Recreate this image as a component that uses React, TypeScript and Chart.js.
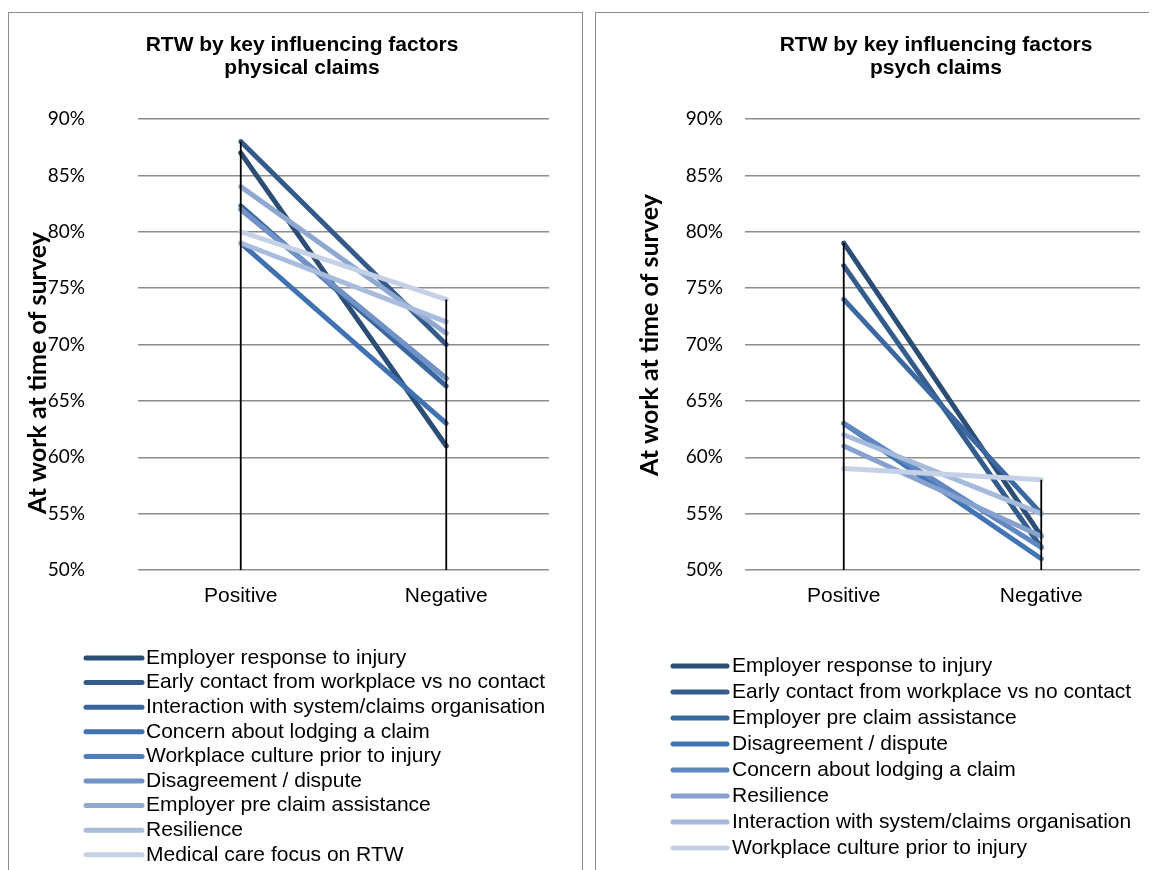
import React, { useEffect, useRef } from 'react';
import { Chart, registerables } from 'chart.js';

Chart.register(...registerables);

// ---------- data ----------
const categories = ['Positive', 'Negative'];
const yMin = 50;
const yMax = 90;
const yStep = 5;

const physicalTitle = ['RTW by key influencing factors', 'physical claims'];
const physicalSeries = [
  'Employer response to injury',
  'Early contact from workplace vs no contact',
  'Interaction with system/claims organisation',
  'Concern about lodging a claim',
  'Workplace culture prior to injury',
  'Disagreement / dispute',
  'Employer pre claim assistance',
  'Resilience',
  'Medical care focus on RTW',
];
const physicalPositive = [87, 88, 82.3, 79, 82, 82, 84, 79, 80];
const physicalNegative = [61, 70, 66.3, 63, 67, 67, 71, 72, 74];
const physicalColors = [
  '#2c4d75', '#335a8a', '#3a659d', '#4071b0', '#4a7ebb',
  '#7092c6', '#8ea8d2', '#a9bcdd', '#c5d1e7',
];

const psychTitle = ['RTW by key influencing factors', 'psych claims'];
const psychSeries = [
  'Employer response to injury',
  'Early contact from workplace vs no contact',
  'Employer pre claim assistance',
  'Disagreement / dispute',
  'Concern about lodging a claim',
  'Resilience',
  'Interaction with system/claims organisation',
  'Workplace culture prior to injury',
];
const psychPositive = [79, 77, 74, 63, 63, 61, 62, 59];
const psychNegative = [53, 52, 55, 51, 52, 53, 55, 58];
const psychColors = [
  '#2c4d75', '#345c8c', '#3b68a1', '#4375b5', '#5f88c2',
  '#86a1cf', '#a6badb', '#c5d1e7',
];

const yAxisTitle = 'At work at time of survey';

// ---------- plugins ----------
const titlePlugin = {
  id: 'panelTitle',
  afterDraw(chart: any, _a: any, o: any) {
    const ctx = chart.ctx;
    ctx.save();
    ctx.font = o.font;
    ctx.fillStyle = '#000';
    ctx.textAlign = 'center';
    ctx.textBaseline = 'middle';
    o.lines.forEach((t: string, i: number) => ctx.fillText(t, o.x, o.y + i * o.lineHeight));
    ctx.restore();
  },
};

const yTitlePlugin = {
  id: 'yTitle',
  afterDraw(chart: any, _a: any, o: any) {
    const ctx = chart.ctx;
    ctx.save();
    ctx.translate(o.x, o.y);
    ctx.rotate(-Math.PI / 2);
    ctx.font = o.font;
    ctx.fillStyle = '#000';
    ctx.textAlign = 'center';
    ctx.textBaseline = 'middle';
    ctx.fillText(o.text, 0, 0);
    ctx.restore();
  },
};

const dropLinePlugin = {
  id: 'dropLines',
  afterDatasetsDraw(chart: any, _a: any, o: any) {
    const ctx = chart.ctx;
    const metas = chart.getSortedVisibleDatasetMetas();
    const n = chart.data.labels.length;
    ctx.save();
    ctx.strokeStyle = '#000';
    ctx.lineWidth = o.width;
    for (let j = 0; j < n; j++) {
      let minY = Infinity;
      let x = 0;
      metas.forEach((m: any) => {
        const el = m.data[j];
        if (el && el.y < minY) {
          minY = el.y;
          x = el.x;
        }
      });
      ctx.beginPath();
      ctx.moveTo(x, minY);
      ctx.lineTo(x, chart.chartArea.bottom);
      ctx.stroke();
    }
    ctx.restore();
  },
};

const rowLegendPlugin = {
  id: 'rowLegend',
  afterDraw(chart: any, _a: any, o: any) {
    const ctx = chart.ctx;
    ctx.save();
    ctx.font = o.font;
    ctx.textAlign = 'left';
    ctx.textBaseline = 'middle';
    chart.data.datasets.forEach((ds: any, i: number) => {
      const y = o.top + i * o.rowHeight;
      ctx.strokeStyle = ds.borderColor;
      ctx.lineWidth = o.lineWidth;
      ctx.lineCap = 'round';
      ctx.beginPath();
      ctx.moveTo(o.x0, y);
      ctx.lineTo(o.x1, y);
      ctx.stroke();
      ctx.fillStyle = '#000';
      ctx.fillText(ds.label, o.textX, y);
    });
    ctx.restore();
  },
};

// ---------- panel ----------
type PanelSpec = {
  title: string[];
  names: string[];
  positive: number[];
  negative: number[];
  colors: string[];
  width: number;
  height: number;
  yAxisWidth: number;
  yTickPad: number;
  rightPad: number;
  titleX: number;
  yTitleX: number;
  yTitleY: number;
  legendTop: number;
  legendRow: number;
  legendX0: number;
  legendX1: number;
  legendTextX: number;
};

function Panel({ spec }: { spec: PanelSpec }) {
  const ref = useRef<HTMLCanvasElement | null>(null);
  useEffect(() => {
    if (!ref.current) return;
    const datasets = spec.names.map((name, i) => ({
      label: name,
      data: [spec.positive[i], spec.negative[i]],
      borderColor: spec.colors[i],
      backgroundColor: spec.colors[i],
      borderWidth: 5,
      borderCapStyle: 'round' as const,
      borderJoinStyle: 'round' as const,
      pointRadius: 0,
      pointHoverRadius: 0,
      tension: 0,
      order: -i,
    }));
    const chart = new Chart(ref.current, {
      type: 'line',
      data: { labels: categories, datasets },
      plugins: [dropLinePlugin, titlePlugin, yTitlePlugin, rowLegendPlugin],
      options: {
        animation: false,
        responsive: false,
        maintainAspectRatio: false,
        events: [],
        layout: { padding: { left: 0, right: spec.rightPad, top: 106, bottom: 260 } },
        scales: {
          x: {
            type: 'category',
            offset: true,
            grid: { display: false, drawTicks: false },
            border: { display: false },
            ticks: {
              color: '#000',
              padding: 14,
              font: { family: 'Liberation Sans, Arial, sans-serif', size: 21 },
            },
            afterFit: (s: any) => { s.height = 40; },
          },
          y: {
            min: yMin,
            max: yMax,
            grid: { color: '#8c8c8c', lineWidth: 1.5, drawTicks: false },
            border: { display: false },
            ticks: {
              stepSize: yStep,
              color: '#000',
              padding: spec.yTickPad,
              font: { family: 'Lato, sans-serif', size: 19 },
              callback: (v: any) => `${v}%`,
            },
            afterFit: (s: any) => { s.width = spec.yAxisWidth; },
          },
        },
        plugins: {
          legend: { display: false },
          tooltip: { enabled: false },
          title: { display: false },
          dropLines: { width: 1.8 },
          panelTitle: {
            lines: spec.title,
            x: spec.titleX,
            y: 32,
            lineHeight: 23,
            font: 'bold 21px "Liberation Sans", Arial, sans-serif',
          },
          yTitle: {
            text: yAxisTitle,
            x: spec.yTitleX,
            y: spec.yTitleY,
            font: 'bold 25px Lato, sans-serif',
          },
          rowLegend: {
            top: spec.legendTop,
            rowHeight: spec.legendRow,
            x0: spec.legendX0,
            x1: spec.legendX1,
            textX: spec.legendTextX,
            lineWidth: 5,
            font: '21px "Liberation Sans", Arial, sans-serif',
          },
        } as any,
      },
    } as any);
    return () => chart.destroy();
  }, [spec]);
  return <canvas ref={ref} width={spec.width} height={spec.height} style={{ display: 'block' }} />;
}

const leftSpec: PanelSpec = {
  title: physicalTitle,
  names: physicalSeries,
  positive: physicalPositive,
  negative: physicalNegative,
  colors: physicalColors,
  width: 573,
  height: 857,
  yAxisWidth: 129,
  yTickPad: 53,
  rightPad: 33,
  titleX: 293,
  yTitleX: 29,
  yTitleY: 360,
  legendTop: 645,
  legendRow: 24.6,
  legendX0: 77,
  legendX1: 133,
  legendTextX: 137,
};

const rightSpec: PanelSpec = {
  title: psychTitle,
  names: psychSeries,
  positive: psychPositive,
  negative: psychNegative,
  colors: psychColors,
  width: 556,
  height: 857,
  yAxisWidth: 149,
  yTickPad: 22,
  rightPad: 12,
  titleX: 340,
  yTitleX: 54,
  yTitleY: 322,
  legendTop: 653,
  legendRow: 26,
  legendX0: 77,
  legendX1: 131,
  legendTextX: 136,
};

export default function App() {
  const panelBase: React.CSSProperties = {
    position: 'absolute',
    top: 4,
    height: 900,
    border: '1px solid #8c8c8c',
    boxSizing: 'border-box',
    background: '#fff',
    overflow: 'hidden',
  };
  return (
    <div style={{ position: 'relative', width: 1141, height: 862 }}>
      <div style={{ ...panelBase, left: 0, width: 575 }}>
        <Panel spec={leftSpec} />
      </div>
      <div style={{ ...panelBase, left: 587, width: 558 }}>
        <Panel spec={rightSpec} />
      </div>
    </div>
  );
}
